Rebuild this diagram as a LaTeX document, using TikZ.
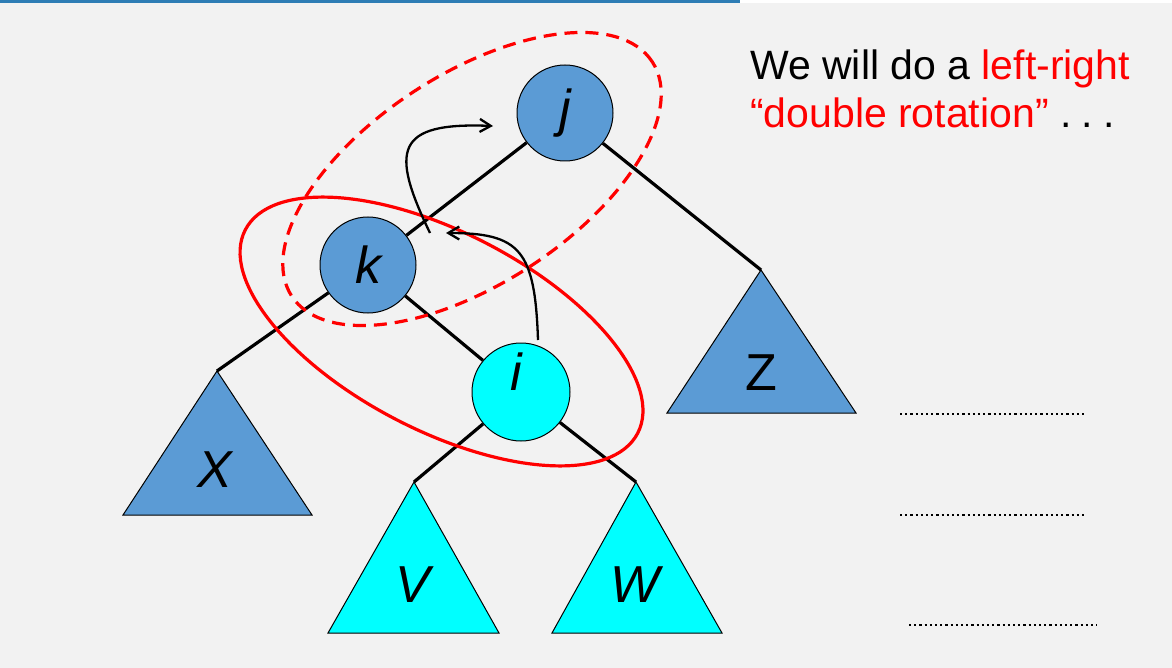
\documentclass[tikz,border=0pt]{standalone}
\usepackage{fontspec}
\setmainfont{Liberation Sans}
\usetikzlibrary{arrows.meta}
\definecolor{bg}{HTML}{F2F2F2}
\definecolor{nodeblue}{HTML}{5B9BD5}
\definecolor{nodecyan}{HTML}{00FFFF}
\definecolor{barblue}{HTML}{2E7DB5}
\definecolor{hilite}{HTML}{FF0000}

\begin{document}
\begin{tikzpicture}[x=1pt,y=-1pt,
  treenode/.style={circle, draw=black, line width=1pt, minimum size=96pt, inner sep=0pt,
    font=\fontsize{52}{52}\selectfont\itshape},
  branch/.style={line width=3.2pt, black},
  subtree/.style={draw=black, line width=1pt},
  tlabel/.style={font=\fontsize{52}{52}\selectfont\itshape, inner sep=0pt},
  loop/.style={draw=hilite, line width=3.2pt},
  move/.style={line width=2.3pt, -{Straight Barb[length=11pt,width=13pt]}},
  blank/.style={line width=2.4pt, dash pattern=on 2.2pt off 3pt},
  caption/.style={anchor=base west, inner sep=0pt, font=\fontsize{41}{49}\selectfont}
]
% page and title bar
\fill[bg] (0,0) rectangle (1172,668);
\useasboundingbox (0,0) rectangle (1172,668);
\fill[white] (740,0) rectangle (1172,3);
\fill[barblue] (0,0) rectangle (740,3);

% apexes of the subtrees
\coordinate (Xtop) at (217,371);
\coordinate (Ztop) at (761,270);
\coordinate (Vtop) at (414,482);
\coordinate (Wtop) at (636,482);

% subtrees
\fill[nodeblue] (Xtop) -- (123,515) -- (312,515) -- cycle;
\draw[subtree] (Xtop) -- (123,515) -- (312,515) -- cycle;
\fill[nodeblue] (Ztop) -- (667,413) -- (856,413) -- cycle;
\draw[subtree] (Ztop) -- (667,413) -- (856,413) -- cycle;
\fill[nodecyan] (Vtop) -- (328,633) -- (499,633) -- cycle;
\draw[subtree] (Vtop) -- (328,633) -- (499,633) -- cycle;
\fill[nodecyan] (Wtop) -- (552,633) -- (722,633) -- cycle;
\draw[subtree] (Wtop) -- (552,633) -- (722,633) -- cycle;

\node[tlabel] (X) at (215,470) {X};
\node[tlabel, font=\fontsize{52}{52}\selectfont] (Z) at (761,373) {Z};
\node[tlabel] (V) at (413,585) {V};
\node[tlabel] (W) at (635,585) {W};

% inner nodes
\node[treenode, fill=nodeblue] (j) at (565,113) {j};
\node[treenode, fill=nodeblue] (k) at (368,265) {k};
\node[treenode, fill=nodecyan, minimum size=98pt] (i) at (521,392) {};
\node[tlabel] (ilabel) at (516,372) {i};

% branches
\draw[branch] (j) -- (k);
\draw[branch] (j) -- (Ztop);
\draw[branch] (k) -- (Xtop);
\draw[branch] (k) -- (i);
\draw[branch] (i) -- (Vtop);
\draw[branch] (i) -- (Wtop);

% rotation groups
\draw[loop, dash pattern=on 13pt off 8pt, shift={(472,179)}, rotate=33]
  (0,0) ellipse [x radius=215pt, y radius=105pt];
\draw[loop, shift={(441.5,331.5)}, rotate=-27.4]
  (0,0) ellipse [x radius=221pt, y radius=99pt];

% rotation moves
\coordinate (m1a) at (430,233);
\coordinate (m1b) at (493,126);
\coordinate (m2a) at (538,340);
\coordinate (m2b) at (446,233);
\draw[move] (m1a) .. controls (390,150) and (395,122) .. (m1b);
\draw[move] (m2a) .. controls (535,250) and (520,233) .. (m2b);

% caption
\node[caption] (t1) at (750,80) {We will do a \textcolor{hilite}{left-right}};
\node[caption] (t2) at (750,128) {\textcolor{hilite}{“double rotation”} .\hspace{0.25em}.\hspace{0.25em}.};

% answer blanks
\coordinate (b1a) at (900,414); \coordinate (b1b) at (1087,414);
\coordinate (b2a) at (900,515); \coordinate (b2b) at (1087,515);
\coordinate (b3a) at (909,625); \coordinate (b3b) at (1097,625);
\draw[blank] (b1a) -- (b1b);
\draw[blank] (b2a) -- (b2b);
\draw[blank] (b3a) -- (b3b);
\end{tikzpicture}
\end{document}
